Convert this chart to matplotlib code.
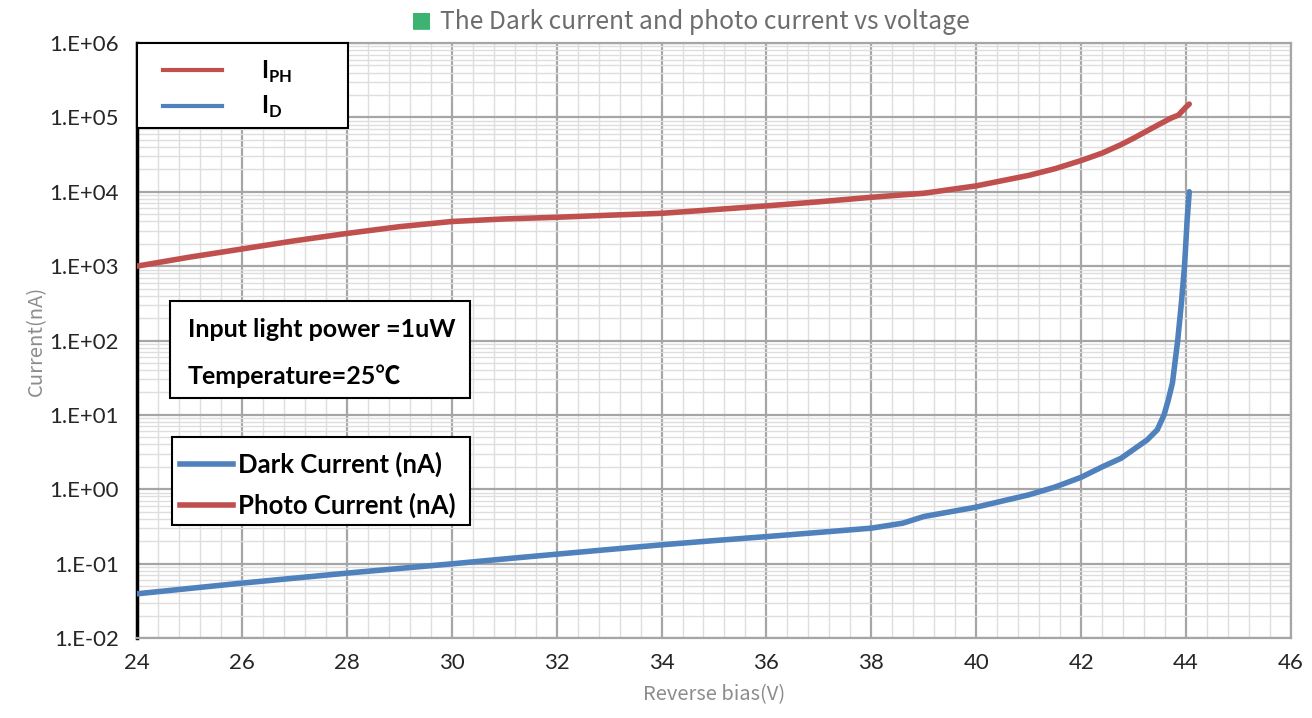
import numpy as np
from matplotlib import pyplot as plt
from matplotlib.lines import Line2D
from matplotlib.patches import Rectangle
from matplotlib.ticker import MultipleLocator, LogLocator, FuncFormatter, NullFormatter

# reverse bias (V) and photo current (nA)
voltage_ph = [24, 25, 26, 27, 28, 29, 30, 31, 32, 33, 34, 35, 36, 37, 38, 39, 40,
              41, 41.5, 42, 42.4, 42.75, 43, 43.39, 43.71, 43.85, 44.0, 44.06]
photo_current = [1000, 1320, 1700, 2190, 2750, 3390, 3980, 4310, 4540, 4840, 5130,
                 5750, 6460, 7330, 8430, 9550, 12000, 16600, 20400, 26300, 33100,
                 42700, 52500, 74100, 97700, 107000, 138000, 151000]

# reverse bias (V) and dark current (nA)
voltage_d = [24, 25, 26, 27, 28, 29, 30, 31, 32, 33, 34, 35, 36, 37, 38, 38.6, 39,
             40, 41, 41.5, 42, 42.4, 42.76, 43.26, 43.45, 43.58, 43.66, 43.74, 43.84,
             43.91, 43.97, 44.02, 44.06]
dark_current = [0.0393, 0.0464, 0.0547, 0.0638, 0.0745, 0.0861, 0.0993, 0.1156, 0.134,
                0.155, 0.179, 0.204, 0.231, 0.263, 0.300, 0.350, 0.430, 0.575, 0.841,
                1.07, 1.45, 2.0, 2.61, 4.62, 6.3, 10.0, 15.8, 26.9, 100, 316, 1000,
                4170, 10000]

x_ticks = [24, 26, 28, 30, 32, 34, 36, 38, 40, 42, 44, 46]

RED = '#C0504D'
BLUE = '#4F81BD'
TXT = ['Lato', 'Noto Sans CJK SC']

plt.rcParams['mathtext.fontset'] = 'custom'
plt.rcParams['mathtext.bf'] = 'Lato:bold'
plt.rcParams['mathtext.rm'] = 'Lato'

fig = plt.figure(figsize=(13.12, 7.18), dpi=100)
ax = fig.add_axes([0.1044, 0.1114, 0.8796, 0.8287])

ax.plot(voltage_ph, photo_current, color=RED, lw=4, solid_capstyle='round',
        solid_joinstyle='round', zorder=3)
ax.plot(voltage_d, dark_current, color=BLUE, lw=4, solid_capstyle='round',
        solid_joinstyle='round', zorder=3)

ax.set_yscale('log')
ax.set_xlim(24, 46)
ax.set_ylim(1e-2, 1e6)
ax.set_xticks(x_ticks)
ax.xaxis.set_minor_locator(MultipleLocator(0.4))
ax.yaxis.set_major_locator(LogLocator(base=10, numticks=20))
ax.yaxis.set_minor_locator(LogLocator(base=10, subs=np.arange(2, 10), numticks=20))
ax.yaxis.set_minor_formatter(NullFormatter())
ax.yaxis.set_major_formatter(FuncFormatter(lambda v, p: '1.E%+03d' % int(round(np.log10(v)))))

ax.grid(which='major', color='#a6a6a6', lw=1.6, zorder=1)
ax.grid(which='minor', color='#dedede', lw=1.0, zorder=0)
ax.set_axisbelow(True)
ax.tick_params(which='both', length=0)
ax.tick_params(axis='y', pad=13, labelsize=16, labelcolor='#262626')
ax.tick_params(axis='x', pad=11, labelsize=16, labelcolor='#262626')
for lab in ax.get_xticklabels() + ax.get_yticklabels():
    lab.set_family('Lato')

for s in ['top', 'right', 'bottom']:
    ax.spines[s].set_color('#a6a6a6')
    ax.spines[s].set_linewidth(1.6)
ax.spines['left'].set_color('black')
ax.spines['left'].set_linewidth(2.5)

ax.set_xlabel('Reverse bias(V)', family='Noto Sans CJK SC', fontsize=14.5, color='#8c8c8c', labelpad=8)
ax.set_ylabel('Current(nA)', family='Noto Sans CJK SC', fontsize=14.5, color='#8c8c8c', labelpad=2)

fig.text(0.321, 0.972, '\u25A0', color='#3CB371', fontsize=16, ha='center', va='center', family='DejaVu Sans')
fig.text(0.335, 0.970, 'The Dark current and photo current vs voltage', color='#6d6d6d',
         fontsize=17.8, ha='left', va='center', family='Noto Sans CJK SC')

# box 1: I_PH / I_D
ax.add_patch(Rectangle((0, 0.857), 0.183, 0.143, transform=ax.transAxes, fc='white',
                       ec='black', lw=1.5, zorder=4, clip_on=False))
h1 = [Line2D([], [], color=RED, lw=3), Line2D([], [], color=BLUE, lw=3)]
leg1 = ax.legend(h1, [r'$\mathbf{I}_{\mathbf{PH}}$', r'$\mathbf{I}_{\mathbf{D}}$'],
                 loc='center left', bbox_to_anchor=(0.0225, 0.922), frameon=False,
                 borderpad=0, borderaxespad=0, fontsize=17, handlelength=2.5,
                 handletextpad=1.65, labelspacing=0.38)
ax.add_artist(leg1)

# box 2: conditions
ax.add_patch(Rectangle((0.0286, 0.403), 0.26, 0.163, transform=ax.transAxes, fc='white',
                       ec='black', lw=1.5, zorder=4))
ax.text(0.0442, 0.519, 'Input light power =1uW', transform=ax.transAxes, fontsize=18,
        weight='bold', family=TXT, va='center', ha='left', zorder=5)
ax.text(0.0442, 0.440, 'Temperature=25\u2103', transform=ax.transAxes, fontsize=18,
        weight='bold', family=TXT, va='center', ha='left', zorder=5)

# box 3: series legend
ax.add_patch(Rectangle((0.0303, 0.190), 0.258, 0.148, transform=ax.transAxes, fc='white',
                       ec='black', lw=1.5, zorder=4))
h2 = [Line2D([], [], color=BLUE, lw=4), Line2D([], [], color=RED, lw=4)]
leg2 = ax.legend(h2, ['Dark Current (nA)', 'Photo Current (nA)'], loc='center left',
                 bbox_to_anchor=(0.0373, 0.257), frameon=False, borderpad=0,
                 borderaxespad=0, prop={'family': 'Lato', 'weight': 'bold', 'size': 18.5},
                 handlelength=2.05, handletextpad=0.2, labelspacing=0.62)

plt.savefig('out.png', dpi=100)
